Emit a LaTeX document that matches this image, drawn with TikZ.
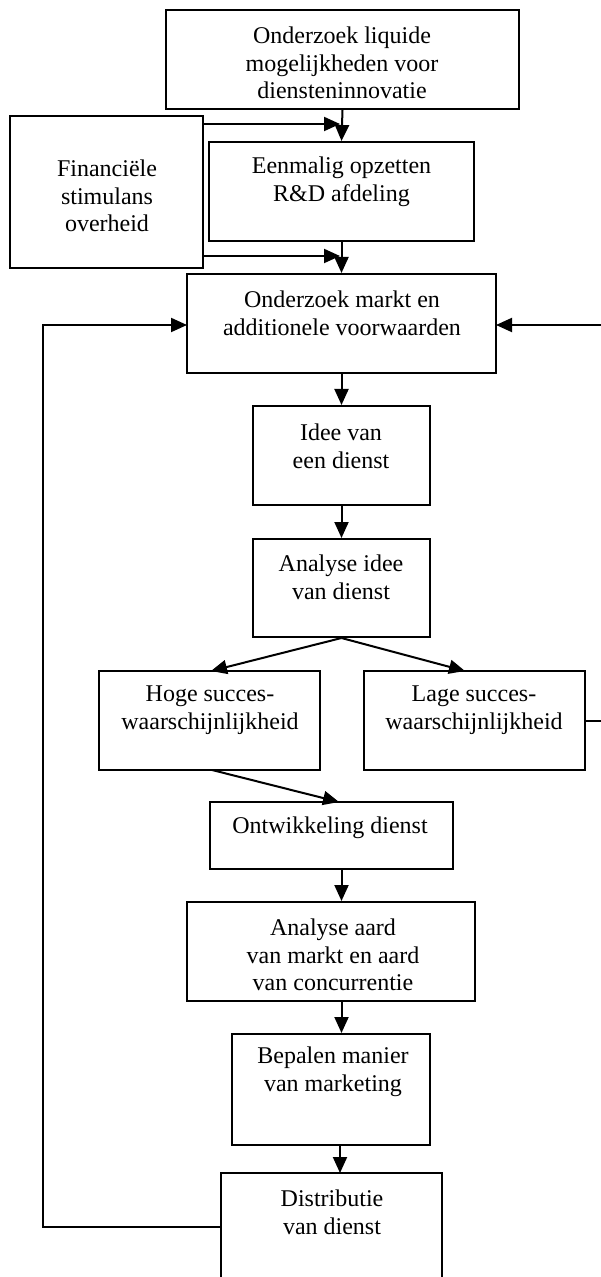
\documentclass[tikz,border=0pt]{standalone}
\usepackage{fontspec}
\setmainfont{Liberation Serif}
\usetikzlibrary{fit,arrows.meta}
\begin{document}
\begin{tikzpicture}[x=0.5pt,y=-0.5pt,
  box/.style={draw,line width=1pt,inner sep=0pt,fill=none},
  txt/.style={align=center,inner sep=0pt,font=\fontsize{12}{13.8}\selectfont},
  arr/.style={line width=1pt,-{Triangle[length=8pt,width=7pt]}}]
\useasboundingbox (0,0) rectangle (600,1277);
% boxes
\node[box,fit={(166,10)(519,109)}] (b1) {};
\node[box,fit={(10,116)(203,268)}] (fin) {};
\node[box,fit={(209,142)(474,241)}] (b2) {};
\node[box,fit={(187,274)(496,373)}] (b3) {};
\node[box,fit={(253,406)(430,505)}] (b4) {};
\node[box,fit={(253,539)(430,637)}] (b5) {};
\node[box,fit={(99,671)(320,770)}] (b6) {};
\node[box,fit={(364,671)(585,770)}] (b7) {};
\node[box,fit={(210,802)(453,869)}] (b8) {};
\node[box,fit={(187,902)(475,1001)}] (b9) {};
\node[box,fit={(232,1034)(430,1145)}] (b10) {};
\node[box,fit={(221,1173)(442,1300)}] (b11) {};
% texts
\node[txt] (t1) at (342,63) {Onderzoek liquide\\mogelijkheden voor\\diensteninnovatie};
\node[txt] (tfin) at (107,196) {Financiële\\stimulans\\overheid};
\node[txt] (t2) at (341.5,182) {Eenmalig opzetten\\R\&D afdeling};
\node[txt] (t3) at (342,313) {Onderzoek markt en\\additionele voorwaarden};
\node[txt] (t4) at (341,446) {Idee van\\een dienst};
\node[txt] (t5) at (341,577) {Analyse idee\\van dienst};
\node[txt] (t6) at (210,710) {Hoge succes-\\waarschijnlijkheid};
\node[txt] (t7) at (474,710) {Lage succes-\\waarschijnlijkheid};
\node[txt] (t8) at (330,828) {Ontwikkeling dienst};
\node[txt] (t9) at (333,955) {Analyse aard\\van markt en aard\\van concurrentie};
\node[txt] (t10) at (333,1072) {Bepalen manier\\van marketing};
\node[txt] (t11) at (332,1212) {Distributie\\van dienst};
% helper coordinates
\coordinate (f1) at (340,124);
\coordinate (f2) at (340,256);
\coordinate (h1) at (211,671);
\coordinate (l1) at (465,671);
\coordinate (h2) at (212,770);
\coordinate (o1) at (339,802);
\coordinate (m1) at (187,325);
\coordinate (m2) at (496,325);
\coordinate (dl) at (221,1227);
\coordinate (c1) at (43,1227);
\coordinate (c2) at (43,325);
\coordinate (lr) at (585,721);
\coordinate (r1) at (610,721);
\coordinate (r2) at (610,325);
\coordinate (p1) at (340,1145);
\coordinate (p2) at (340,1173);
% connectors
\draw[arr] (b1.south) -- (b2.north);
\draw[arr] (fin.east |- f1) -- (f1);
\draw[arr] (fin.east |- f2) -- (f2);
\draw[arr] (b2.south) -- (b3.north);
\draw[arr] (b3.south) -- (b4.north);
\draw[arr] (b4.south) -- (b5.north);
\draw[arr] (b5.south) -- (h1);
\draw[arr] (b5.south) -- (l1);
\draw[arr] (h2) -- (o1);
\draw[arr] (b8.south -| b3.south) -- (b9.north -| b3.south);
\draw[arr] (b9.south -| b3.south) -- (b10.north -| b3.south);
\draw[arr] (p1) -- (p2);
\draw[arr] (dl) -- (c1) -- (c2) -- (m1);
\draw[arr] (lr) -- (r1) -- (r2) -- (m2);
\end{tikzpicture}
\end{document}
